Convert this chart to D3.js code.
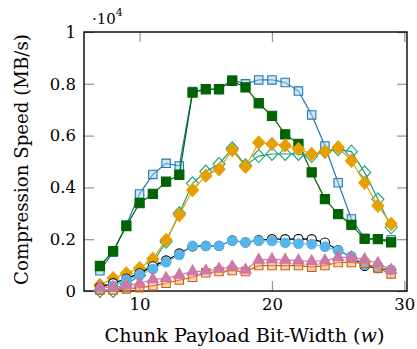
<!DOCTYPE html>
<html>
<head>
<meta charset="utf-8">
<script src="https://cdn.jsdelivr.net/npm/d3@7"></script>
<style>
  body { margin: 0; background: #fff; }
  text { font-family: 'DejaVu Serif', serif; fill: #000; }
</style>
</head>
<body>
<div id="chart"></div>
<script>
// ── data (MB/s), one value per chunk payload bit-width w = 7 … 29 ──
const BIT_WIDTHS = d3.range(7, 30);
const BLUE_SQUARES  = [780,1500,2550,3750,4500,4930,4830,7700,7800,7800,8150,8000,8150,8150,8050,7720,6800,5600,4180,2780,2030,2000,1970];
const GREEN_SQUARES = [965,1540,2510,3390,3750,4220,4480,7660,7790,7790,8110,7860,7250,6760,6050,5680,4580,3550,2970,2550,2010,2000,1880];
const TEAL_DIAMONDS = [0,0,250,600,1100,1900,3000,4160,4610,4900,5510,4850,5210,5290,5290,5290,5210,5380,5470,5380,4580,3540,2460];
const ORANGE_DIAMONDS = [230,490,680,880,1240,1970,2930,3900,4450,4700,5440,4800,5730,5680,5620,5480,5290,5380,5550,5030,4180,3290,2590];
const BLACK_CIRCLES = [150,300,480,680,950,1180,1450,1720,1740,1740,1950,1880,1960,2000,2000,2010,2000,1870,1580,1300,970,880,810];
const SKY_CIRCLES   = [80,200,420,620,850,1110,1390,1740,1740,1740,1940,1870,1940,1930,1860,1830,1810,1710,1560,1340,1020,940,810];
const RED_SQUARES   = [30,40,80,130,200,300,420,530,700,750,790,750,980,980,980,980,920,980,1100,1100,1070,880,660];
const PINK_TRIANGLES = [140,140,230,300,450,490,620,750,780,850,940,810,1200,1220,1200,1170,1140,1170,1300,1300,1220,1070,810];

const X_TICKS = [10, 20, 30];
const Y_TICKS = [0, 2000, 4000, 6000, 8000, 10000];

const SERIES = [
  { vals: BLUE_SQUARES,    mark: "square",   r: 4.2, stroke: "#1f78b4", fill: "#a6cee3", fo: 0.5 },
  { vals: GREEN_SQUARES,   mark: "square",   r: 4.6, stroke: "#006400", fill: "#006400", fo: 1 },
  { vals: TEAL_DIAMONDS,   mark: "diamond",  r: 6,   stroke: "#1b9e77", fill: "none",    fo: 1 },
  { vals: ORANGE_DIAMONDS, mark: "diamond",  r: 6,   stroke: "#e69f00", fill: "#e69f00", fo: 1 },
  { vals: BLACK_CIRCLES,   mark: "circle",   r: 4.6, stroke: "#000",    fill: "#fff",    fo: 1 },
  { vals: SKY_CIRCLES,     mark: "circle",   r: 4.8, stroke: "#56b4e9", fill: "#56b4e9", fo: 1 },
  { vals: RED_SQUARES,     mark: "square",   r: 4.2, stroke: "#d55e00", fill: "#f4a582", fo: 0.5 },
  { vals: PINK_TRIANGLES,  mark: "triangle", r: 6.5, stroke: "#cc79a7", fill: "#cc79a7", fo: 1 },
];

const MARK = {
  square:   r => `M${-r},${-r}H${r}V${r}H${-r}Z`,
  diamond:  r => `M0,${-r*1.08}L${r},0L0,${r*1.08}L${-r},0Z`,
  triangle: r => `M0,${-r}L${r*0.866},${r*0.5}L${-r*0.866},${r*0.5}Z`,
  circle:   r => d3.symbol(d3.symbolCircle, Math.PI*r*r)(),
};

const W = 417, H = 349;
const MG = { t: 32, r: 10, b: 58, l: 84 };
const iW = W - MG.l - MG.r, iH = H - MG.t - MG.b;

const svg = d3.select("#chart").append("svg").attr("width", W).attr("height", H);
const g = svg.append("g").attr("transform", `translate(${MG.l},${MG.t})`);

const xSc = d3.scaleLinear().domain([5.8, 30.2]).range([0, iW]);
const ySc = d3.scaleLinear().domain([0, 10000]).range([iH, 0]);

// ticks (inward, grey, mirrored on all sides)
const TICK = 10;
function styleAxis(sel, labels) {
  sel.select(".domain").remove();
  sel.selectAll(".tick line").attr("stroke", "#9a9a9a").attr("stroke-width", 1.3);
  if (!labels) sel.selectAll(".tick text").remove();
  else sel.selectAll(".tick text").attr("font-size", 16.5);
}
g.append("g").attr("transform", `translate(0,${iH})`)
  .call(d3.axisBottom(xSc).tickValues(X_TICKS).tickSize(-TICK).tickPadding(7).tickFormat(d3.format("d")))
  .call(s => styleAxis(s, true));
g.append("g")
  .call(d3.axisTop(xSc).tickValues(X_TICKS).tickSize(-TICK))
  .call(s => styleAxis(s, false));
g.append("g")
  .call(d3.axisLeft(ySc).tickValues(Y_TICKS).tickSize(-TICK).tickPadding(8).tickFormat(v => d3.format("~g")(v / 1e4)))
  .call(s => styleAxis(s, true));
g.append("g").attr("transform", `translate(${iW},0)`)
  .call(d3.axisRight(ySc).tickValues(Y_TICKS).tickSize(-TICK))
  .call(s => styleAxis(s, false));

// frame
g.append("rect").attr("width", iW).attr("height", iH)
  .attr("fill", "none").attr("stroke", "#000").attr("stroke-width", 1.4);

// series
const line = d3.line().x((_, i) => xSc(BIT_WIDTHS[i])).y(d => ySc(d));
SERIES.forEach(s => {
  g.append("path").attr("d", line(s.vals))
    .attr("fill", "none").attr("stroke", s.stroke).attr("stroke-width", 1.2);
  g.selectAll(null).data(s.vals).join("path")
    .attr("transform", (d, i) => `translate(${xSc(BIT_WIDTHS[i])},${ySc(d)})`)
    .attr("d", MARK[s.mark](s.r))
    .attr("fill", s.fill).attr("fill-opacity", s.fo)
    .attr("stroke", s.stroke).attr("stroke-width", 1.1);
});

// scale factor label
const sf = svg.append("text").attr("x", 92).attr("y", 24).attr("font-size", 15);
sf.append("tspan").text("·10");
sf.append("tspan").attr("dy", -8).attr("font-size", 11).text("4");

// axis labels
const xl = svg.append("text").attr("x", 244.5).attr("y", 341.5)
  .attr("text-anchor", "middle").attr("font-size", 19.2);
xl.append("tspan").text("Chunk Payload Bit-Width (");
xl.append("tspan").attr("font-style", "italic").text("w");
xl.append("tspan").text(")");

svg.append("text").attr("transform", `translate(28,${MG.t + iH / 2 - 2}) rotate(-90)`)
  .attr("text-anchor", "middle").attr("font-size", 18.2)
  .text("Compression Speed (MB/s)");
</script>
</body>
</html>
